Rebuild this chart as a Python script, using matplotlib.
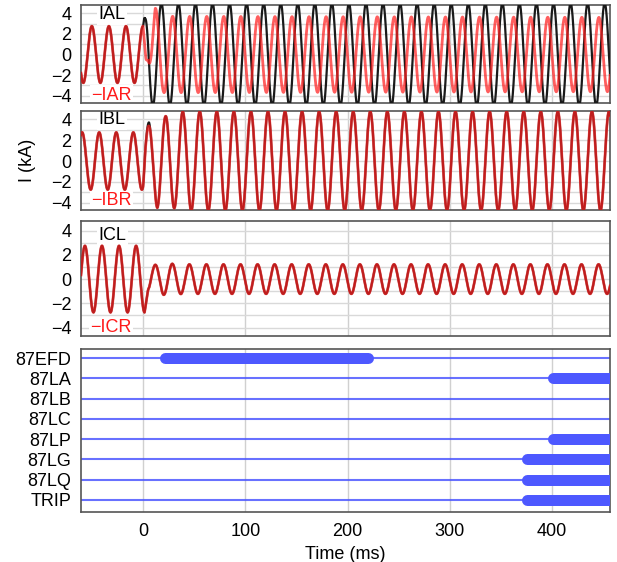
import numpy as np
import matplotlib
matplotlib.use('Agg')
import matplotlib.pyplot as plt

plt.rcParams['font.family'] = ['Liberation Sans', 'DejaVu Sans']

F_HZ = 60.0
W, H = 617, 562
FS = 13

########################################
# analog channel data
# amplitude in kA, "peak" = time (ms) of a positive peak
channels = ['IAL', '\u2212IAR', 'IBL', '\u2212IBR', 'ICL', '\u2212ICR']
pre_amp = [2.75, 2.75, 2.75, 2.75, 2.75, 2.75]
pre_peak = [0.0, 0.0, 7.2, 7.2, 9.9, 9.9]
post_peak = [1.3, 12.3, 5.5, 5.5, 12.0, 12.0]
blend_ms = [(0, 1), (0, 3), (0, 2), (0, 2), (1.5, 6), (1.5, 6)]
env_t = [[0, 2, 5, 460],
         [0, 5, 12, 20, 460],
         [0, 6, 9, 14, 22, 39, 460],
         [0, 6, 14, 22, 39, 460],
         [0, 20, 40, 460],
         [0, 20, 40, 460]]
env_a = [[3.4, 3.6, 5.0, 5.0],
         [0.4, 0.6, 4.5, 3.7, 3.6],
         [3.0, 3.75, 3.5, 4.5, 4.3, 4.75, 4.75],
         [3.0, 3.4, 4.5, 4.3, 4.75, 4.75],
         [1.0, 1.3, 1.22, 1.22],
         [1.0, 1.3, 1.22, 1.22]]
label_y = [(0.9, 0.08), (0.91, 0.1), (0.87, 0.07)]

########################################
# digital channel data (pickup / dropout in ms, None = still on)
digital = ['87EFD', '87LA', '87LB', '87LC', '87LP', '87LG', '87LQ', 'TRIP']
dig_on = [[(16.6, 225.2)], [(395.4, None)], [], [], [(395.4, None)],
          [(370.3, None)], [(370.3, None)], [(370.3, None)]]

xlim = (-60.6, 456.5)
t = np.arange(-61.0, 457.0, 0.05)
w = 2 * np.pi * F_HZ / 1000.0


def wave(i):
    pre = pre_amp[i] * np.cos(w * (t - pre_peak[i]))
    amp = np.interp(t, env_t[i], env_a[i])
    post = amp * np.cos(w * (t - post_peak[i]))
    b0, b1 = blend_ms[i]
    k = np.clip((t - b0) / (b1 - b0), 0, 1)
    return (1 - k) * pre + k * post


def px_axes(top, bottom, left=81, right=610):
    return fig.add_axes([left / W, 1 - bottom / H, (right - left) / W, (bottom - top) / H])


fig = plt.figure(figsize=(W / 100, H / 100), dpi=100)

panels = [(5, 103), (111, 210), (221, 336)]
for p, (top, bottom) in enumerate(panels):
    ax = px_axes(top, bottom)
    yl = wave(2 * p)
    yr = wave(2 * p + 1)
    ax.plot(t, yl, color='#1a1a1a', lw=1.6, zorder=3)
    ax.plot(t, yr, color='#ff2020', lw=2.0, alpha=0.72, zorder=4)
    ax.set_xlim(*xlim)
    ax.set_ylim(-4.7, 4.8)
    ax.set_yticks([-4, -2, 0, 2, 4])
    ax.set_yticks([-3, -1, 1, 3], minor=True)
    ax.set_xticks([0, 100, 200, 300, 400])
    ax.set_xticklabels([])
    ax.grid(which='both', axis='y', color='#d9d9d9', lw=1.0, zorder=0)
    ax.grid(which='major', axis='x', color='#d0d0d0', lw=1.0, zorder=0)
    ax.tick_params(which='both', length=0, labelsize=FS, pad=7)
    for s in ax.spines.values():
        s.set_color('#555555')
        s.set_linewidth(1.2)
    ytop, ybot = label_y[p]
    ax.text(-30, ytop, channels[2 * p], transform=ax.get_xaxis_transform(),
            ha='center', va='center', fontsize=FS, color='black', zorder=2,
            bbox=dict(facecolor='white', edgecolor='none', pad=1))
    ax.text(-31, ybot, channels[2 * p + 1], transform=ax.get_xaxis_transform(),
            ha='center', va='center', fontsize=FS, color='#ff1a1a', zorder=2,
            bbox=dict(facecolor='white', edgecolor='none', pad=1))

fig.text(28 / W, 1 - 160 / H, 'I (kA)', rotation=90, ha='center', va='center', fontsize=FS)

########################################
# digital panel
dax = px_axes(349, 512)
blue = '#4d58ff'
bar_px = 11
ms_per_px = (xlim[1] - xlim[0]) / (610 - 81)
inset = bar_px / 2 * ms_per_px
for r, name in enumerate(digital):
    dax.plot(xlim, [r, r], color=blue, lw=1.5, alpha=0.85, zorder=2)
    for on, off in dig_on[r]:
        end = xlim[1] + 10 if off is None else off - inset
        dax.plot([on + inset, end], [r, r], color=blue, lw=bar_px * 0.72,
                 solid_capstyle='round', zorder=3)
dax.set_xlim(*xlim)
dax.set_ylim(7.6, -0.45)
dax.set_yticks(range(len(digital)))
dax.set_yticklabels(digital)
dax.set_xticks([0, 100, 200, 300, 400])
dax.grid(which='major', axis='x', color='#d0d0d0', lw=1.0, zorder=0)
dax.tick_params(length=0, labelsize=FS, pad=7)
dax.tick_params(axis='x', pad=8)
for s in dax.spines.values():
    s.set_color('#555555')
    s.set_linewidth(1.2)
dax.set_xlabel('Time (ms)', fontsize=FS, labelpad=4)

fig.savefig('out.png', dpi=100)
